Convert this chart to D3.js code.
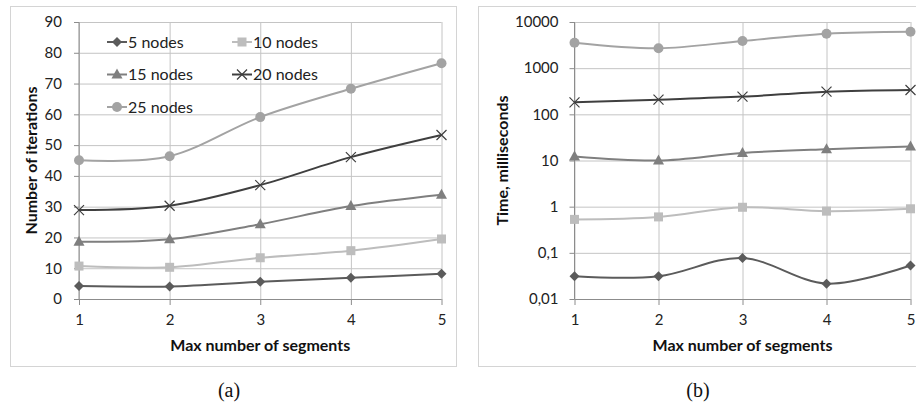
<!DOCTYPE html>
<meta charset="utf-8">
<style>
body { margin: 0; background: #fff; }
svg { display: block; }
.tick text { font-family: Lato, "Open Sans", sans-serif; font-size: 15px; fill: #222; }
.grid line { stroke: #c4c4c4; stroke-width: 1px; }
.grid path { display: none; }
.axis path { display: none; }
.axis line { stroke: #8c8c8c; }
.title { font-family: Lato, sans-serif; font-size: 16px; font-weight: bold; fill: #111; }
.legend text { font-family: Lato, sans-serif; font-size: 16px; fill: #222; }
.caption { font-family: "Liberation Serif", "DejaVu Serif", serif; font-size: 20px; fill: #111; }
.line { fill: none; stroke-width: 2px; }
</style>
<svg width="916" height="408"></svg>
<script src="https://d3js.org/d3.v7.min.js"></script>
<script>

var segments = [1, 2, 3, 4, 5];
var seriesNames = ["5 nodes", "10 nodes", "15 nodes", "20 nodes", "25 nodes"];

// (a) number of iterations
var iter5  = [4.2, 4.1, 5.6, 6.9, 8.2];
var iter10 = [10.7, 10.3, 13.4, 15.7, 19.5];
var iter15 = [18.6, 19.4, 24.3, 30.2, 33.9];
var iter20 = [28.9, 30.3, 37.0, 46.1, 53.3];
var iter25 = [45.1, 46.4, 59.1, 68.3, 76.6];
var iterTicks = [0, 10, 20, 30, 40, 50, 60, 70, 80, 90];

// (b) time, milliseconds
var time5  = [0.031, 0.031, 0.077, 0.0215, 0.053];
var time10 = [0.53, 0.6, 0.97, 0.8, 0.9];
var time15 = [12.2, 10.0, 14.6, 17.6, 20.0];
var time20 = [182, 208, 242, 310, 337];
var time25 = [3560, 2700, 3880, 5580, 6150];
var timeTicks = [0.01, 0.1, 1, 10, 100, 1000, 10000];

var colors = ["#5b5b5b", "#bdbdbd", "#7f7f7f", "#3f3f3f", "#a3a3a3"];
var shapes = ["diamond", "square", "triangle", "cross", "circle"];

var svg = d3.select("svg");

// panel frames
svg.append("rect").attr("x", 10.5).attr("y", 6.5).attr("width", 446).attr("height", 360)
  .attr("fill", "none").attr("stroke", "#d4d4d4");
svg.append("rect").attr("x", 478.5).attr("y", 6.5).attr("width", 460).attr("height", 360)
  .attr("fill", "none").attr("stroke", "#d4d4d4");

function marker(g, shape, color, x, y) {
  if (shape == "diamond") {
    g.append("path").attr("d", "M" + x + "," + (y - 5) + "L" + (x + 5) + "," + y + "L" + x + "," + (y + 5) + "L" + (x - 5) + "," + y + "Z")
      .attr("fill", color);
  } else if (shape == "square") {
    g.append("rect").attr("x", x - 4.5).attr("y", y - 4.5).attr("width", 9).attr("height", 9).attr("fill", color);
  } else if (shape == "triangle") {
    g.append("path").attr("d", "M" + x + "," + (y - 6) + "L" + (x + 5.5) + "," + (y + 4) + "L" + (x - 5.5) + "," + (y + 4) + "Z")
      .attr("fill", color);
  } else if (shape == "cross") {
    g.append("path").attr("d", "M" + (x - 5) + "," + (y - 5) + "L" + (x + 5) + "," + (y + 5) + "M" + (x + 5) + "," + (y - 5) + "L" + (x - 5) + "," + (y + 5))
      .attr("stroke", color).attr("stroke-width", 1.2).attr("fill", "none");
  } else {
    g.append("circle").attr("cx", x).attr("cy", y).attr("r", 5).attr("fill", color);
  }
}

function chart(opts) {
  var x = d3.scaleLinear().domain([1, 5]).range([opts.left, opts.right]);
  var y = opts.y;
  var g = svg.append("g");

  g.append("g").attr("class", "grid")
    .attr("transform", "translate(" + opts.left + ",0)")
    .call(d3.axisLeft(y).tickValues(opts.ticks).tickSize(-(opts.right - opts.left)).tickFormat(""));
  g.append("g").attr("class", "grid")
    .attr("transform", "translate(0," + opts.bottom + ")")
    .call(d3.axisBottom(x).tickValues(segments).tickSize(-(opts.bottom - opts.top)).tickFormat(""));

  g.append("g").attr("class", "axis")
    .attr("transform", "translate(" + opts.left + ",0)")
    .call(d3.axisLeft(y).tickValues(opts.ticks).tickSize(5).tickPadding(opts.pad).tickFormat(opts.fmt));
  g.append("g").attr("class", "axis")
    .attr("transform", "translate(0," + opts.bottom + ")")
    .call(d3.axisBottom(x).tickValues(segments).tickSize(6).tickPadding(9).tickFormat(d3.format("d")));

  g.append("line").attr("x1", opts.left).attr("x2", opts.left).attr("y1", opts.top).attr("y2", opts.bottom)
    .attr("stroke", "#8c8c8c");
  g.append("line").attr("x1", opts.left).attr("x2", opts.right).attr("y1", opts.bottom + 0.5).attr("y2", opts.bottom + 0.5)
    .attr("stroke", "#8c8c8c");

  var line = d3.line()
    .curve(d3.curveCardinal.tension(0))
    .x(function(d, i) { return x(segments[i]); })
    .y(function(d) { return y(d); });

  opts.series.forEach(function(vals, s) {
    g.append("path").attr("class", "line").attr("d", line(vals)).attr("stroke", colors[s]);
    vals.forEach(function(v, i) { marker(g, shapes[s], colors[s], x(segments[i]), y(v)); });
  });

  g.append("text").attr("class", "title")
    .attr("x", (opts.left + opts.right) / 2).attr("y", 351)
    .attr("text-anchor", "middle").text("Max number of segments");
  g.append("text").attr("class", "title")
    .attr("transform", "translate(" + opts.ytitleX + "," + ((opts.top + opts.bottom) / 2) + ") rotate(-90)")
    .attr("text-anchor", "middle").text(opts.ytitle);
  svg.append("text").attr("class", "caption")
    .attr("x", opts.capX).attr("y", 397).attr("text-anchor", "middle").text(opts.caption);
  return g;
}

var left = chart({
  left: 79, right: 441.5, top: 22, bottom: 299,
  y: d3.scaleLinear().domain([0, 90]).range([299, 22]),
  ticks: iterTicks, pad: 12, fmt: d3.format("d"),
  series: [iter5, iter10, iter15, iter20, iter25],
  ytitle: "Number of iterations", ytitleX: 37, caption: "(a)", capX: 229
});

chart({
  left: 574.5, right: 910.5, top: 22, bottom: 299,
  y: d3.scaleLog().domain([0.01, 10000]).range([299, 22]),
  ticks: timeTicks, pad: 11, fmt: function(d) { return String(d).replace(".", ","); },
  series: [time5, time10, time15, time20, time25],
  ytitle: "Time, milliseconds", ytitleX: 508, caption: "(b)", capX: 698
});

// legend inside panel (a)
var legend = left.append("g").attr("class", "legend");
seriesNames.forEach(function(name, i) {
  var lx = i % 2 == 0 ? 107 : 232;
  var ly = 42 + Math.floor(i / 2) * 32.5;
  legend.append("line").attr("x1", lx).attr("x2", lx + 20).attr("y1", ly).attr("y2", ly)
    .attr("stroke", colors[i]).attr("stroke-width", 2);
  marker(legend, shapes[i], colors[i], lx + 10, ly);
  legend.append("text").attr("x", lx + 21).attr("y", ly).attr("dy", "0.35em").text(name);
});

</script>
